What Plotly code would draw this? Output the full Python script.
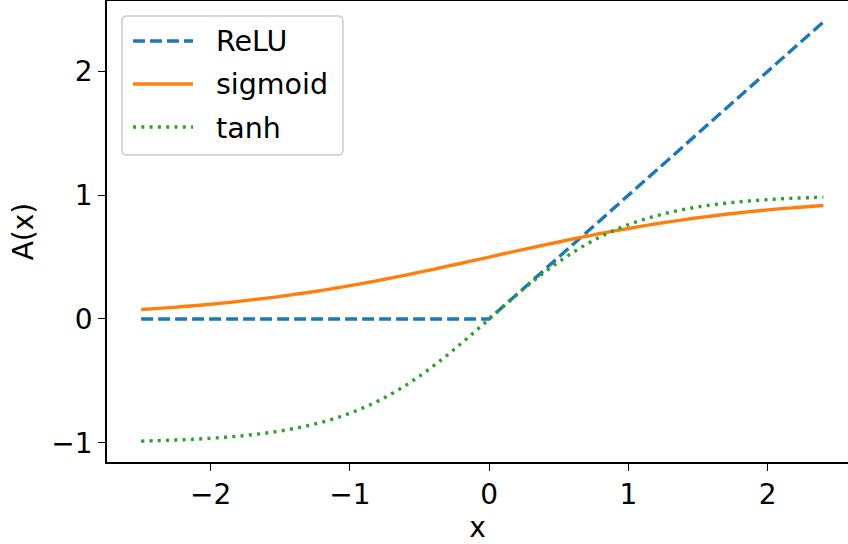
import plotly.graph_objects as go

# Sample points along x (step 0.1, from -2.5 to 2.4)
x = [-2.5, -2.4, -2.3, -2.2, -2.1, -2.0, -1.9, -1.8, -1.7, -1.6,
     -1.5, -1.4, -1.3, -1.2, -1.1, -1.0, -0.9, -0.8, -0.7, -0.6,
     -0.5, -0.4, -0.3, -0.2, -0.1, 0.0, 0.1, 0.2, 0.3, 0.4,
     0.5, 0.6, 0.7, 0.8, 0.9, 1.0, 1.1, 1.2, 1.3, 1.4,
     1.5, 1.6, 1.7, 1.8, 1.9, 2.0, 2.1, 2.2, 2.3, 2.4]

relu = [0.0, 0.0, 0.0, 0.0, 0.0, 0.0, 0.0, 0.0, 0.0, 0.0,
        0.0, 0.0, 0.0, 0.0, 0.0, 0.0, 0.0, 0.0, 0.0, 0.0,
        0.0, 0.0, 0.0, 0.0, 0.0, 0.0, 0.1, 0.2, 0.3, 0.4,
        0.5, 0.6, 0.7, 0.8, 0.9, 1.0, 1.1, 1.2, 1.3, 1.4,
        1.5, 1.6, 1.7, 1.8, 1.9, 2.0, 2.1, 2.2, 2.3, 2.4]

sigmoid = [0.076, 0.083, 0.091, 0.100, 0.109, 0.119, 0.130, 0.142, 0.155, 0.168,
           0.182, 0.198, 0.214, 0.231, 0.250, 0.269, 0.289, 0.310, 0.332, 0.354,
           0.378, 0.401, 0.426, 0.450, 0.475, 0.500, 0.525, 0.550, 0.574, 0.599,
           0.622, 0.646, 0.668, 0.690, 0.711, 0.731, 0.750, 0.769, 0.786, 0.802,
           0.818, 0.832, 0.846, 0.858, 0.870, 0.881, 0.891, 0.900, 0.909, 0.917]

tanh = [-0.987, -0.984, -0.980, -0.976, -0.971, -0.964, -0.956, -0.947, -0.935, -0.922,
        -0.905, -0.885, -0.862, -0.834, -0.801, -0.762, -0.716, -0.664, -0.604, -0.537,
        -0.462, -0.380, -0.291, -0.197, -0.100, 0.000, 0.100, 0.197, 0.291, 0.380,
        0.462, 0.537, 0.604, 0.664, 0.716, 0.762, 0.801, 0.834, 0.862, 0.885,
        0.905, 0.922, 0.935, 0.947, 0.956, 0.964, 0.971, 0.976, 0.980, 0.984]

series_names = ["ReLU", "sigmoid", "tanh"]
series_colors = ["#1f77b4", "#ff7f0e", "#2ca02c"]
series_dashes = ["12px,5px", "solid", "3px,5.3px"]

FONT = "DejaVu Sans"
LW = 3.4

W, H = 848, 544
M_L, M_R, M_T, M_B = 107, 0, 1, 82
PW, PH = W - M_L - M_R, H - M_T - M_B


def px(xp):
    """Pixel column -> paper x."""
    return (xp - M_L) / PW


def py(yp):
    """Pixel row -> paper y."""
    return (H - M_B - yp) / PH


fig = go.Figure()
for name, yv, color, dash in zip(series_names, [relu, sigmoid, tanh], series_colors, series_dashes):
    fig.add_trace(go.Scatter(
        x=x, y=yv, mode="lines", name=name, showlegend=False,
        line=dict(color=color, width=LW, dash=dash,
                  shape="linear" if name == "ReLU" else "spline"),
    ))

axis_common = dict(
    showgrid=False, zeroline=False,
    showline=True, linecolor="black", linewidth=1.6,
    ticks="outside", ticklen=7, tickwidth=1.4, tickcolor="black",
    tickfont=dict(family=FONT, size=28, color="black"),
)

# Legend frame: rounded box in the upper-left corner of the axes
bx0, bx1, by0, by1, r = 122, 343, 16, 155, 5
frame = (
    f"M {px(bx0 + r)},{py(by0)} L {px(bx1 - r)},{py(by0)} "
    f"Q {px(bx1)},{py(by0)} {px(bx1)},{py(by0 + r)} "
    f"L {px(bx1)},{py(by1 - r)} Q {px(bx1)},{py(by1)} {px(bx1 - r)},{py(by1)} "
    f"L {px(bx0 + r)},{py(by1)} Q {px(bx0)},{py(by1)} {px(bx0)},{py(by1 - r)} "
    f"L {px(bx0)},{py(by0 + r)} Q {px(bx0)},{py(by0)} {px(bx0 + r)},{py(by0)} Z"
)
shapes = [dict(type="path", xref="paper", yref="paper", path=frame,
               fillcolor="rgba(255,255,255,0.8)", line=dict(color="#cccccc", width=1.5),
               layer="above")]
annotations = []
row_y = [41, 84, 127]
for name, color, dash, ry in zip(series_names, series_colors, series_dashes, row_y):
    shapes.append(dict(type="line", xref="paper", yref="paper",
                       x0=px(133), x1=px(193), y0=py(ry), y1=py(ry),
                       line=dict(color=color, width=LW, dash=dash), layer="above"))
    annotations.append(dict(xref="paper", yref="paper", x=px(214), y=py(ry + 1),
                            xanchor="left", yanchor="middle", showarrow=False,
                            text=name, font=dict(family=FONT, size=28.5, color="black")))

fig.update_layout(
    width=W, height=H,
    margin=dict(l=M_L, r=M_R, t=M_T, b=M_B),
    paper_bgcolor="white", plot_bgcolor="white",
    font=dict(family=FONT, size=28, color="black"),
    xaxis=dict(range=[-2.745, 2.577], tickvals=[-2, -1, 0, 1, 2], mirror=True,
               title=dict(text="x", font=dict(family=FONT, size=28), standoff=4),
               **axis_common),
    yaxis=dict(range=[-1.156, 2.569], tickvals=[-1, 0, 1, 2],
               title=dict(text="A(x)", font=dict(family=FONT, size=28), standoff=10),
               **axis_common),
    shapes=shapes,
    annotations=annotations,
    showlegend=False,
)

fig.write_html("out.html")
